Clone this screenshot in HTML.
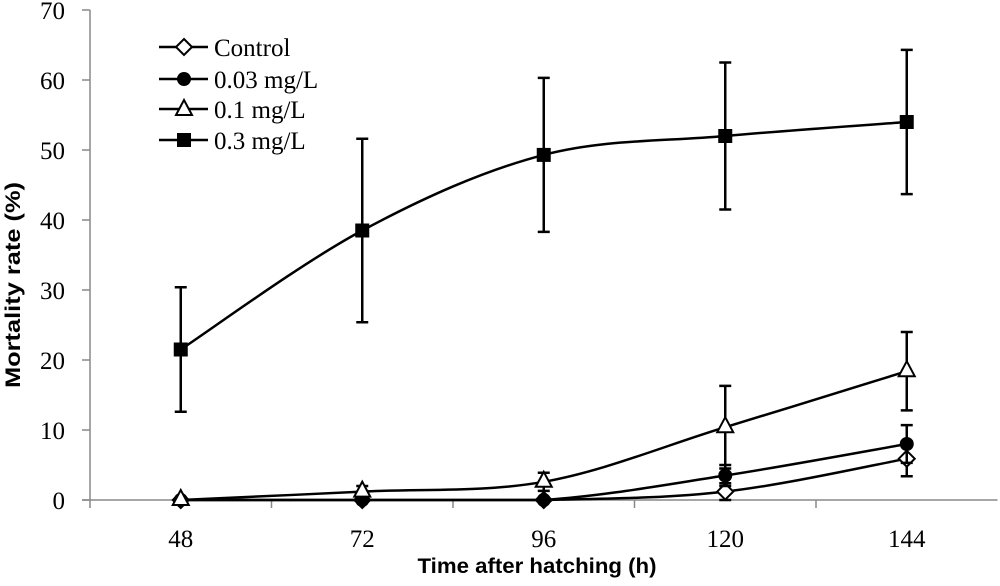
<!DOCTYPE html>
<html><head><meta charset="utf-8"><style>
body{margin:0;background:#fff}
svg text{font-family:"Liberation Serif",serif;font-size:25px;fill:#000}
</style></head><body>
<svg id="chart" width="1000" height="581" xmlns="http://www.w3.org/2000/svg">
<g id="axes"></g>
<g id="series"></g>
<g id="legend"></g>
<text transform="translate(20,285) rotate(-90)" text-anchor="middle" textLength="206" lengthAdjust="spacingAndGlyphs" style="font-family:'Liberation Sans',sans-serif;font-weight:bold;font-size:21px">Mortality rate (%)</text>
<text x="537" y="573" text-anchor="middle" textLength="239" lengthAdjust="spacingAndGlyphs" style="font-family:'Liberation Sans',sans-serif;font-weight:bold;font-size:21px">Time after hatching (h)</text>
</svg>
<script>
const categories=["48","72","96","120","144"];
const yTicks=[0,10,20,30,40,50,60,70];
const seriesNames=["Control","0.03 mg/L","0.1 mg/L","0.3 mg/L"];
const controlVals=[0,0,0,1.2,5.9];
const controlErr=[0,0,0,1.2,2.5];
const c003Vals=[0,0,0,3.5,8];
const c003Err=[0,0,0,1.5,2.7];
const c01Vals=[0,1.2,2.6,10.4,18.4];
const c01Err=[0,0.8,1.3,5.9,5.6];
const c03Vals=[21.5,38.5,49.3,52,54];
const c03Err=[8.9,13.1,11,10.5,10.3];
const markers=["diamond","circle","triangle","square"];
const NS="http://www.w3.org/2000/svg";
const X0=90,Y0=500,Y1=10;
const step=181.5;
const X1=X0+step*categories.length;
function xs(i){return X0+step/2+i*step;}
function ys(v){return Y0-(v/70)*(Y0-Y1);}
function mk(tag,attrs,parent){const e=document.createElementNS(NS,tag);for(const k in attrs)e.setAttribute(k,attrs[k]);parent.appendChild(e);return e;}
const axes=document.getElementById('axes');
let l=mk('line',{x1:X0,y1:Y1,x2:X0,y2:Y0+8,stroke:'#888','stroke-width':1.5},axes);


l=mk('line',{x1:X0-8,y1:Y0,x2:X1,y2:Y0,stroke:'#888','stroke-width':1.5},axes);


yTicks.forEach(t=>{
 const y=ys(t);
 let tk=mk('line',{x1:X0-8,y1:y,x2:X0,y2:y,stroke:'#888','stroke-width':1.5},axes);
 
 
 let tx=mk('text',{x:X0-25,y:y+9,'text-anchor':'end'},axes);tx.textContent=t;
 
 
});
categories.forEach((c,i)=>{
 if(i>0){let tk=mk('line',{x1:xs(i)-step/2,y1:Y0,x2:xs(i)-step/2,y2:Y0+8,stroke:'#888','stroke-width':1.5},axes);
 
 }
 let tx=mk('text',{x:xs(i),y:Y0+47,'text-anchor':'middle'},axes);tx.textContent=c;
 
 
});
function smooth(pts){
 let d=`M${pts[0][0]},${pts[0][1]}`;
 for(let i=0;i<pts.length-1;i++){
  const p0=pts[i-1]||pts[i],p1=pts[i],p2=pts[i+1],p3=pts[i+2]||p2;
  const t=1/6;
  const c1=[p1[0]+(p2[0]-p0[0])*t,Math.min(Y0,p1[1]+(p2[1]-p0[1])*t)];
  const c2=[p2[0]-(p3[0]-p1[0])*t,Math.min(Y0,p2[1]-(p3[1]-p1[1])*t)];
  d+=` C${c1[0]},${c1[1]} ${c2[0]},${c2[1]} ${p2[0]},${p2[1]}`;
 }
 return d;
}
function marker(type,x,y,g){
 let e;
 if(type==='diamond')e=mk('polygon',{points:`${x},${y-8} ${x+8},${y} ${x},${y+8} ${x-8},${y}`,fill:'#fff',stroke:'#000','stroke-width':2},g);
 else if(type==='circle')e=mk('circle',{cx:x,cy:y,r:7,fill:'#000'},g);
 else if(type==='triangle')e=mk('polygon',{points:`${x},${y-10} ${x+8},${y+5} ${x-8},${y+5}`,fill:'#fff',stroke:'#000','stroke-width':2},g);
 else e=mk('rect',{x:x-7,y:y-7,width:14,height:14,fill:'#000'},g);
 return e;
}
const allVals=[controlVals,c003Vals,c01Vals,c03Vals];
const allErr=[controlErr,c003Err,c01Err,c03Err];
const sg=document.getElementById('series');
allVals.forEach((vals,s)=>{
 const g=mk('g',{},sg);
 
 
 const pts=vals.map((v,i)=>[xs(i),ys(v)]);
 const p=mk('path',{d:smooth(pts),fill:'none',stroke:'#000','stroke-width':2.5},g);
 
 
 vals.forEach((v,i)=>{
  const e=allErr[s][i];
  if(e>0){
   const x=xs(i),yt=ys(v+e),yb=ys(Math.max(0,v-e));
   const eb=mk('path',{d:`M${x},${yt}V${yb}M${x-6},${yt}H${x+6}M${x-6},${yb}H${x+6}`,stroke:'#000','stroke-width':2.5,fill:'none'},g);
   
   
  }
 });
 vals.forEach((v,i)=>{
  const m=marker(markers[s],xs(i),ys(v),g);
  
  
 });
});
const lg=document.getElementById('legend');
const ly=[47,79,109,140];
seriesNames.forEach((n,i)=>{
 const g=mk('g',{},lg);
 
 
 mk('line',{x1:159,y1:ly[i],x2:208,y2:ly[i],stroke:'#000','stroke-width':2.5},g);
 marker(markers[i],184,ly[i]+(markers[i]==='triangle'?1:0),g);
 const t=mk('text',{x:214,y:ly[i]+9},g);t.textContent=n;
 
 
});
</script>
</body></html>
